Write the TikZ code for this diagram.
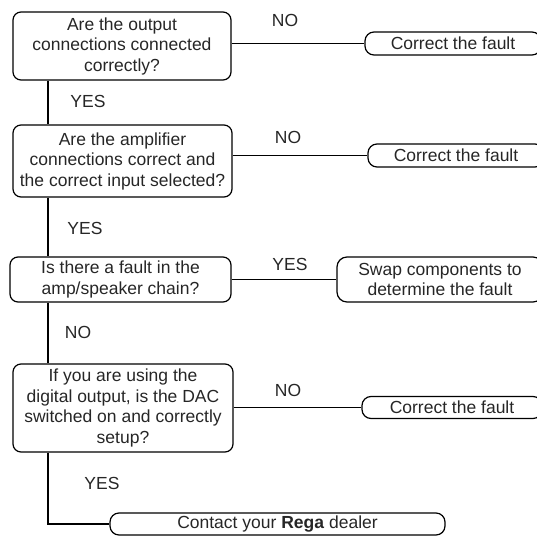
\documentclass[tikz,border=0pt]{standalone}
\usepackage{fontspec}
\setmainfont{Liberation Sans}

\begin{document}
\begin{tikzpicture}[x=1pt,y=-1pt,
  txt/.style={font=\fontsize{17.5}{20.5}\selectfont,text=black!85},
  question/.style={txt,draw,rounded corners=8pt,line width=1.2pt,align=center,inner sep=0pt},
  answer/.style={txt,draw,rounded corners=9pt,line width=1.2pt,align=center,inner sep=0pt},
  link/.style={line width=1.4pt}]
\useasboundingbox (0,0) rectangle (537,538);
\clip (0,0) rectangle (537,538);

\draw (48,0) coordinate (spine);

\node[question,minimum width=218pt,minimum height=68pt] (q_1) at (122,46)
  {Are the output\\connections connected\\correctly?};
\node[question,minimum width=219pt,minimum height=72pt] (q_2) at (122.5,161)
  {Are the amplifier\\connections correct and\\the correct input selected?};
\node[question,minimum width=221pt,minimum height=45pt] (q_3) at (120.5,279.5)
  {Is there a fault in the\\amp/speaker chain?};
\node[question,minimum width=220pt,minimum height=88pt] (q_4) at (123,408)
  {If you are using the\\digital output, is the DAC\\switched on and correctly\\setup?};

\node[answer,minimum width=176pt,minimum height=23pt] (t_1) at (453,43.5) {Correct the fault};
\node[answer,minimum width=176pt,minimum height=23pt] (t_2) at (456,155.5) {Correct the fault};
\node[question,minimum width=206pt,minimum height=45pt,rounded corners=10pt] (t_3) at (440,279.5)
  {Swap components to\\determine the fault};
\node[answer,minimum width=180pt,minimum height=22pt] (t_4) at (452,407.5) {Correct the fault};
\node[answer,minimum width=335pt,minimum height=22pt] (t_5) at (277.5,524) {Contact your \textbf{Rega} dealer};

\draw[link] (q_1.east |- t_1.west) -- (t_1.west);
\draw[link] (q_2.east |- t_2.west) -- (t_2.west);
\draw[link] (q_3.east) -- (t_3.west);
\draw[link] (q_4.east |- t_4.west) -- (t_4.west);

\draw[link] (q_1.south -| spine) -- (q_2.north -| spine);
\draw[link] (q_2.south -| spine) -- (q_3.north -| spine);
\draw[link] (q_3.south -| spine) -- (q_4.north -| spine);
\draw[link] (q_4.south -| spine) |- (t_5.west);

\node[txt] (no_1) at (285,20) {NO};
\node[txt] (yes_1) at (88,101) {YES};
\node[txt] (no_2) at (288,137) {NO};
\node[txt] (yes_2) at (85,228) {YES};
\node[txt] (yes_3) at (290,264) {YES};
\node[txt] (no_3) at (78,332) {NO};
\node[txt] (no_4) at (288,390) {NO};
\node[txt] (yes_4) at (102,483) {YES};

\end{tikzpicture}
\end{document}
